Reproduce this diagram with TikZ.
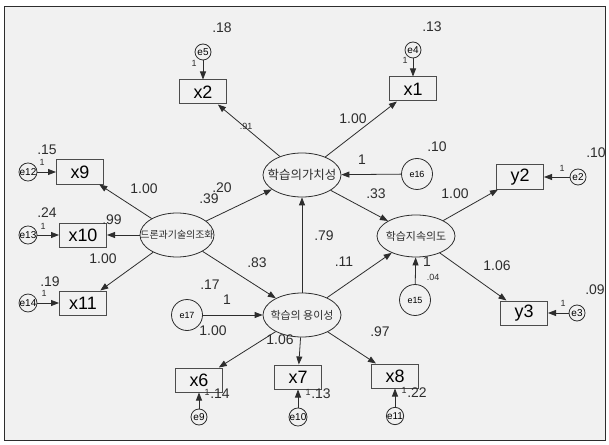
\documentclass[tikz,border=0pt]{standalone}
\usepackage{fontspec}
\setmainfont{Liberation Sans}
\newfontfamily\kor{Noto Sans CJK KR}
\usetikzlibrary{arrows.meta, shapes.geometric}
\definecolor{bg}{RGB}{241,241,241}
\definecolor{ln}{RGB}{45,45,45}

\begin{document}
\begin{tikzpicture}[x=1bp, y=-1bp,
    obs/.style={draw=ln!85, line width=1pt, minimum width=47bp, minimum height=24bp, inner sep=0pt, font=\fontsize{18}{18}\selectfont},
    lat/.style={ellipse, draw=ln, line width=0.8pt, minimum width=78bp, minimum height=44bp, inner sep=0pt},
    kortext/.style={inner sep=0pt, text=ln, font=\kor\fontsize{12}{12}\selectfont},
    err/.style={circle, draw=ln, line width=0.8pt, minimum size=16bp, inner sep=0pt, font=\fontsize{10}{10}\selectfont},
    dist/.style={circle, draw=ln, line width=0.8pt, minimum size=31bp, inner sep=0pt, font=\fontsize{9}{9}\selectfont},
    arr/.style={-{Triangle[length=8bp,width=6bp]}, draw=ln, line width=0.8pt},
    big/.style={inner sep=0pt, text=ln, font=\fontsize{14}{14}\selectfont},
    sml/.style={inner sep=0pt, text=ln, font=\fontsize{9}{9}\selectfont}]
    \useasboundingbox (0,0) rectangle (609,445);
    \draw[ln, fill=bg] (4,6) rectangle (605,440);

    % Latent variables
    \node[lat, label={[kortext, font=\kor\fontsize{12.5}{12.5}\selectfont]center:학습의가치성}] (val) at (302,175) {};
    \node[lat, minimum height=42bp, label={[kortext, font=\kor\fontsize{11}{11}\selectfont]center:학습지속의도}] (cont) at (416,236) {};
    \node[lat, minimum width=74bp, label={[kortext, font=\kor\fontsize{10}{10}\selectfont]center:드론과기술의조화}] (tech) at (177,235) {};
    \node[lat, label={[kortext, font=\kor\fontsize{11}{11}\selectfont]center:학습의 용이성}] (ease) at (302,315) {};

    % Observed variables
    \node[obs] (x2) at (203,92) {x2};
    \node[obs] (x1) at (413,89) {x1};
    \node[obs] (x9) at (80,172) {x9};
    \node[obs] (x10) at (83,235) {x10};
    \node[obs] (x11) at (83,303) {x11};
    \node[obs] (y2) at (520,177) {y2};
    \node[obs] (y3) at (524,313) {y3};
    \node[obs] (x6) at (199,380) {x6};
    \node[obs] (x7) at (298,377) {x7};
    \node[obs] (x8) at (395,376) {x8};

    % Errors
    \node[err] (e5) at (203,52) {e5};
    \node[err] (e4) at (413,50) {e4};
    \node[err] (e12) at (28,172) {e12};
    \node[err] (e13) at (28,235) {e13};
    \node[err] (e14) at (28,303) {e14};
    \node[err] (e2) at (578,177) {e2};
    \node[err] (e3) at (577,313) {e3};
    \node[err] (e9) at (199,417) {e9};
    \node[err] (e10) at (298,417) {e10};
    \node[err] (e11) at (395,416) {e11};
    \node[dist] (e16) at (417,174) {e16};
    \node[dist] (e15) at (415,300) {e15};
    \node[dist] (e17) at (187,315) {e17};

    % Structural paths
    \draw[arr] (tech) -- (val);
    \draw[arr] (tech) -- (ease);
    \draw[arr] (ease) -- (val);
    \draw[arr] (ease) -- (cont);
    \draw[arr] (val) -- (cont);
    \draw[arr] (e16) -- (val);
    \draw[arr] (e15) -- (cont);
    \draw[arr] (e17) -- (ease);

    % Loadings
    \draw[arr] (val) -- (x2);
    \draw[arr] (val) -- (x1);
    \draw[arr] (tech) -- (x9);
    \draw[arr] (tech) -- (x10);
    \draw[arr] (tech) -- (x11);
    \draw[arr] (cont) -- (y2);
    \draw[arr] (cont) -- (y3);
    \draw[arr] (ease) -- (x6);
    \draw[arr] (ease) -- (x7);
    \draw[arr] (ease) -- (x8);

    % Error paths
    \draw[arr] (e5) -- (x2);
    \draw[arr] (e4) -- (x1);
    \draw[arr] (e12) -- (x9);
    \draw[arr] (e13) -- (x10);
    \draw[arr] (e14) -- (x11);
    \draw[arr] (e2) -- (y2);
    \draw[arr] (e3) -- (y3);
    \draw[arr] (e9) -- (x6);
    \draw[arr] (e10) -- (x7);
    \draw[arr] (e11) -- (x8);

    % Estimates
    \node[big] (vx2) at (222,28) {.18};
    \node[sml] (w5) at (194,63) {1};
    \node[sml] (l91) at (246,126) {.91};
    \node[big] (vx1) at (432,27) {.13};
    \node[sml] (w4) at (405,60) {1};
    \node[big] (lx1) at (353,119) {1.00};
    \node[big] (v16) at (437,147) {.10};
    \node[big] (w16) at (362,160) {1};
    \node[big] (l33) at (376,194) {.33};
    \node[big] (ly2) at (455,194) {1.00};
    \node[sml] (w2) at (562,168) {1};
    \node[big] (vy2) at (596,153) {.10};
    \node[big] (ly3) at (497,266) {1.06};
    \node[sml] (w3) at (563,303) {1};
    \node[big] (vy3) at (595,290) {.09};
    \node[big] (w15) at (427,262) {1};
    \node[sml] (v15) at (433,277) {.04};
    \node[big] (l79) at (324,236) {.79};
    \node[big] (l11) at (344,262) {.11};
    \node[big] (l39) at (209,199) {.39};
    \node[big] (l20) at (222,188) {.20};
    \node[big] (lx9) at (144,189) {1.00};
    \node[big] (l99) at (112,220) {.99};
    \node[big] (lx11) at (103,259) {1.00};
    \node[big] (vx9) at (47,150) {.15};
    \node[sml] (w12) at (42,162) {1};
    \node[big] (vx10) at (47,213) {.24};
    \node[sml] (w13) at (43,226) {1};
    \node[big] (vx11) at (50,282) {.19};
    \node[sml] (w14) at (44,293) {1};
    \node[big] (l83) at (257,263) {.83};
    \node[big] (v17) at (210,285) {.17};
    \node[big] (w17) at (227,300) {1};
    \node[big] (lx6) at (213,331) {1.00};
    \node[big] (lx7) at (280,340) {1.06};
    \node[big] (lx8) at (380,332) {.97};
    \node[sml] (w9) at (207,392) {1};
    \node[big] (vx6) at (220,394) {.14};
    \node[sml] (w10) at (308,392) {1};
    \node[big] (vx7) at (321,394) {.13};
    \node[sml] (w11) at (404,390) {1};
    \node[big] (vx8) at (417,393) {.22};
\end{tikzpicture}
\end{document}
